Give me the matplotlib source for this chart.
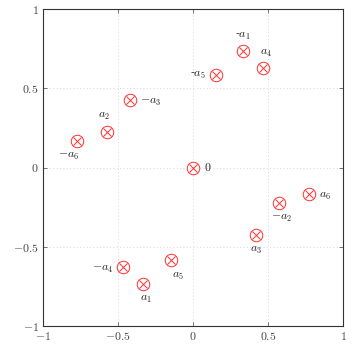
import matplotlib
matplotlib.use("Agg")
import matplotlib.pyplot as plt

plt.rcParams['mathtext.fontset'] = 'cm'
plt.rcParams['font.family'] = 'serif'
plt.rcParams['font.serif'] = ['DejaVu Serif']

# points
names = ['$0$', '-$a_1$', '$a_4$', '-$a_5$', '$-a_3$', '$a_2$', '$-a_6$',
         '$-a_2$', '$a_6$', '$a_3$', '$a_5$', '$-a_4$', '$a_1$']
xs = [0.0, 0.333, 0.467, 0.15, -0.42, -0.573, -0.773,
      0.573, 0.773, 0.42, -0.15, -0.467, -0.333]
ys = [0.0, 0.732, 0.63, 0.585, 0.425, 0.225, 0.17,
      -0.225, -0.17, -0.425, -0.585, -0.63, -0.732]
# label offsets in points (dx, dy) and alignment
offs = [(8, 0, 'left', 'center'), (0, 7, 'center', 'bottom'), (2, 6, 'center', 'bottom'),
        (-7, 0, 'right', 'center'), (7, -1, 'left', 'center'), (-2, 7, 'center', 'bottom'),
        (-6, -6, 'center', 'top'), (2, -6, 'center', 'top'), (7, -1, 'left', 'center'),
        (0, -6, 'center', 'top'), (5, -6, 'center', 'top'), (-7, -1, 'right', 'center'),
        (2, -6, 'center', 'top')]

fig = plt.figure(figsize=(3.53, 3.46), dpi=100)
ax = fig.add_axes([43/353, 20/346, 300/353, 317/346])

ax.plot(xs, ys, 'o', ms=9, mfc='none', mec='#ff3030', mew=0.7)
ax.plot(xs, ys, 'x', ms=5.8, mec='#ff3030', mew=0.7)

for n, x, y, (dx, dy, ha, va) in zip(names, xs, ys, offs):
    ax.annotate(n, (x, y), xytext=(dx, dy), textcoords='offset points',
                ha=ha, va=va, fontsize=8.5, color='#222222')

ax.set_xlim(-1, 1)
ax.set_ylim(-1, 1)
ticks = [-1, -0.5, 0, 0.5, 1]
labs = ['$-1$', '$-0.5$', '$0$', '$0.5$', '$1$']
ax.set_xticks(ticks)
ax.set_xticklabels(labs)
ax.set_yticks(ticks)
ax.set_yticklabels(labs)
ax.tick_params(direction='in', top=True, right=True, length=3, width=0.5,
               labelsize=8.5, colors='#444444', pad=3)
ax.grid(True, ls=(0, (1, 3)), lw=0.6, color='#c8c8c8')
for s in ax.spines.values():
    s.set_linewidth(0.8)
    s.set_color('#333333')

fig.savefig('out.png', dpi=100)
